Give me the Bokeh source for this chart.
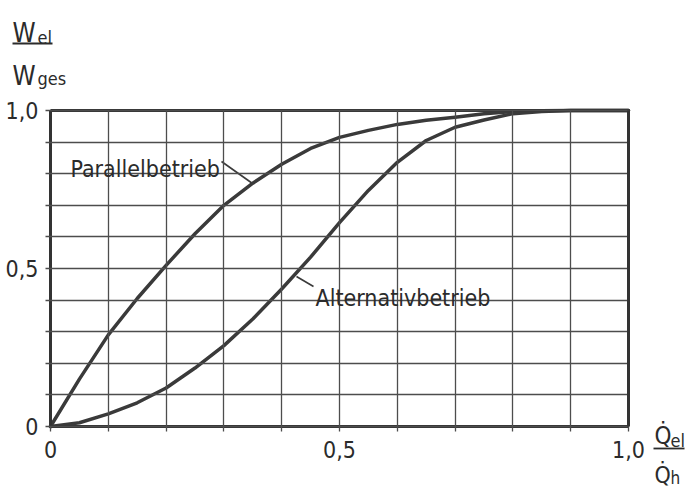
from bokeh.plotting import figure
from bokeh.models import FixedTicker, Label, ColumnDataSource, LinearAxis, Range1d
from bokeh.embed import file_html
from bokeh.resources import INLINE

# ---- data ----
x_vals = [0.0, 0.05, 0.1, 0.15, 0.2, 0.25, 0.3, 0.35, 0.4, 0.45, 0.5, 0.55, 0.6, 0.65, 0.7, 0.75, 0.8, 0.85, 0.9, 1.0]
parallel = [0.0, 0.15, 0.29, 0.405, 0.51, 0.61, 0.70, 0.77, 0.83, 0.88, 0.915, 0.937, 0.956, 0.969, 0.979, 0.99, 0.997, 0.999, 1.0, 1.0]
alternativ = [0.0, 0.012, 0.04, 0.075, 0.122, 0.185, 0.256, 0.34, 0.435, 0.536, 0.645, 0.747, 0.836, 0.905, 0.947, 0.97, 0.99, 0.997, 1.0, 1.0]

grid_ticks = [round(i / 10, 1) for i in range(11)]
tick_labels = {0.0: "0", 0.5: "0,5", 1.0: "1,0"}
series_names = ["Parallelbetrieb", "Alternativbetrieb"]

FONT = "DejaVu Sans Condensed, Roboto Condensed, Roboto, sans-serif"
INK = "#2b2b2b"
LINE = "#3a3a3a"
GRID = "#4d4d4d"
FRAME = "#333333"

W, H = 695, 488
L, R, T, B = 50, 628, 110, 426     # plot box in canvas pixels
sx = R - L
sy = B - T

p = figure(width=W, height=H,
           x_range=Range1d(-L / sx, (W - L) / sx),
           y_range=Range1d(-(H - B) / sy, 1 + T / sy),
           x_axis_location=None, y_axis_location=None,
           min_border=0, output_backend="svg", toolbar_location=None)
p.background_fill_color = "white"
p.border_fill_color = "white"
p.outline_line_color = None
p.grid.grid_line_color = None


def styled_axis(ticks, labels, tick_in, standoff):
    ax = LinearAxis(fixed_location=0.0, bounds=(0, 1), ticker=FixedTicker(ticks=ticks))
    ax.major_label_overrides = {t: labels.get(t, "") for t in ticks}
    ax.minor_tick_line_color = None
    ax.major_tick_in = tick_in
    ax.major_tick_out = 5
    ax.major_tick_line_color = GRID
    ax.major_tick_line_width = 1.3
    ax.axis_line_color = FRAME
    ax.axis_line_width = 3
    ax.major_label_text_font = FONT
    ax.major_label_text_font_size = "23px"
    ax.major_label_text_color = INK
    ax.major_label_standoff = standoff
    return ax


# axes whose inward ticks form the grid
p.add_layout(styled_axis(grid_ticks, tick_labels, sx, 7), "left")
p.add_layout(styled_axis(grid_ticks, tick_labels, sy, 9), "below")

# top and right borders of the box
for side in ("above", "right"):
    ax = LinearAxis(fixed_location=1.0, bounds=(0, 1), ticker=FixedTicker(ticks=[]))
    ax.axis_line_color = FRAME
    ax.axis_line_width = 3
    ax.minor_tick_line_color = None
    ax.major_tick_line_color = None
    ax.major_label_text_color = None
    p.add_layout(ax, side)

src = ColumnDataSource(dict(x=x_vals, par=parallel, alt=alternativ))
p.line("x", "par", source=src, line_color=LINE, line_width=3.5, line_join="round", line_cap="round")
p.line("x", "alt", source=src, line_color=LINE, line_width=3.5, line_join="round", line_cap="round")


def lab(x, y, t, size):
    p.add_layout(Label(x=x, y=y, text=t, text_font=FONT, text_font_size=size,
                       text_color=INK, text_baseline="alphabetic"))


def ox(px):   # reference pixel -> data x
    return (px - L) / sx


def oy(py):   # reference pixel -> data y
    return (B - py) / sy


# curve labels with leader lines
lab(ox(70), oy(168), series_names[0], "23px")
p.segment(x0=[ox(221)], y0=[oy(161)], x1=[ox(252)], y1=[oy(183)], line_color=LINE, line_width=1.6)
lab(ox(315), oy(297), series_names[1], "23px")
p.segment(x0=[ox(313)], y0=[oy(286)], x1=[ox(296)], y1=[oy(276)], line_color=LINE, line_width=1.6)

# y quantity  W_el / W_ges
lab(ox(12), oy(32), "W", "26px")
lab(ox(37), oy(37), "el", "18px")
p.segment(x0=[ox(12)], y0=[oy(43)], x1=[ox(52)], y1=[oy(43)], line_color=INK, line_width=1.8)
lab(ox(12), oy(75), "W", "26px")
lab(ox(37), oy(78), "ges", "18px")

# x quantity  Q̇_el / Q̇_h
lab(ox(654), oy(435), "Q\u0307", "24px")
lab(ox(670), oy(440), "el", "18px")
p.segment(x0=[ox(653)], y0=[oy(448)], x1=[ox(684)], y1=[oy(448)], line_color=INK, line_width=1.8)
lab(ox(654), oy(474), "Q\u0307", "23px")
lab(ox(670), oy(477), "h", "17px")

open("out.html", "w").write(file_html(p, INLINE))
